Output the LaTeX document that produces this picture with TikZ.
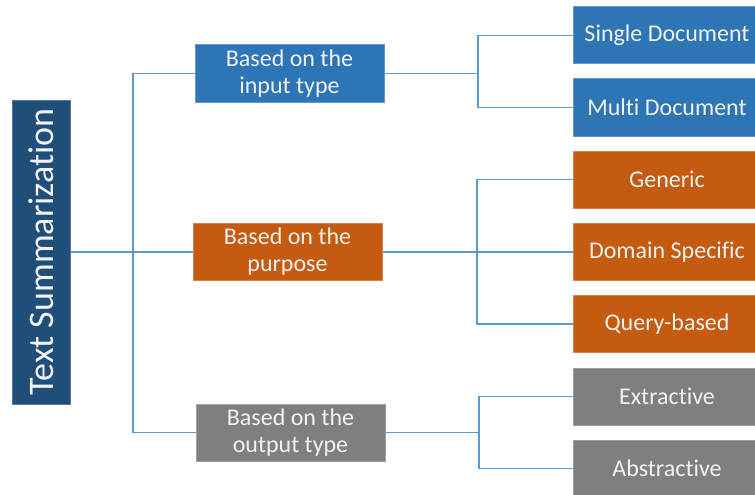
\documentclass[tikz,border=0pt]{standalone}
\usepackage{fontspec}
\setmainfont[Ligatures=NoCommon]{Carlito}
\usepackage{tikz}
\definecolor{rootblue}{HTML}{1F4E79}
\definecolor{boxblue}{HTML}{2E75B6}
\definecolor{boxorange}{HTML}{C55A11}
\definecolor{boxgray}{HTML}{7F7F7F}
\definecolor{linkblue}{HTML}{5B9BD5}
\tikzset{
  tbox/.style={fill=#1, draw=#1!75!white, line width=1pt, text=white!95!black,
    inner sep=0pt, align=center, font=\fontsize{24}{27}\selectfont},
  midbox/.style={tbox=#1, minimum width=189pt, minimum height=57pt},
  leafbox/.style={tbox=#1, minimum width=188pt, minimum height=57pt},
  link/.style={linkblue, line width=1.3pt}
}

\begin{document}
\begin{tikzpicture}[x=1pt,y=-1pt]
%\draw[help lines, color=gray!30, dashed] (0,0) grid[step=50] (755,495);
\useasboundingbox (0,0) rectangle (755,495);
\clip (0,0) rectangle (755,495);
\node[tbox=rootblue, rotate=90, minimum width=304pt, minimum height=58pt,
  font=\fontsize{36}{40}\selectfont] (root) at (41,252) {Text Summarization};
\node[midbox=boxblue] (in) at (289.5,73.5) {Based on the\\input type};
\node[midbox=boxorange] (pur) at (287.5,252) {Based on the\\purpose};
\node[midbox=boxgray] (out) at (290.5,432.5) {Based on the\\output type};
\node[leafbox=boxblue] (sd) at (667,35.5) {Single Document};
\node[leafbox=boxblue] (md) at (667,107.5) {Multi Document};
\node[leafbox=boxorange] (gen) at (667,179.5) {Generic};
\node[leafbox=boxorange] (dom) at (667,252) {Domain Specific};
\node[leafbox=boxorange] (qry) at (667,324) {Query-based};
\node[leafbox=boxgray] (ext) at (667,396.5) {Extractive};
\node[leafbox=boxgray] (abs) at (667,468.5) {Abstractive};
\coordinate (rj) at (133,252);
\coordinate (ij) at (478,73.5);
\coordinate (pj) at (477,252);
\coordinate (oj) at (479,432.5);
\draw[link] (root) -- (rj);
\draw[link] (in.west) -| (rj) |- (out.west);
\draw[link] (rj) -- (pur.west);
\draw[link] (in.east) -- (ij);
\draw[link] (sd.west) -| (ij) |- (md.west);
\draw[link] (pur.east) -- (dom.west);
\draw[link] (gen.west) -| (pj) |- (qry.west);
\draw[link] (out.east) -- (oj);
\draw[link] (ext.west) -| (oj) |- (abs.west);
\end{tikzpicture}
\end{document}
